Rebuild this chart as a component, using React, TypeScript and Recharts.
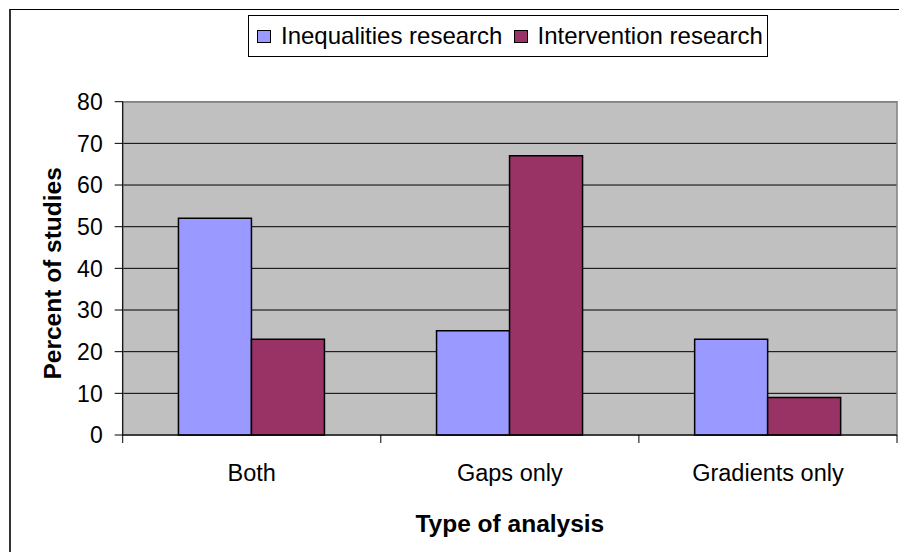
import React from "react";
import { BarChart, Bar, XAxis, YAxis, CartesianGrid, ReferenceArea, Label } from "recharts";

const categories = ["Both", "Gaps only", "Gradients only"];
const inequalities = [52, 25, 23];
const intervention = [23, 67, 9];
const yTicks = [0, 10, 20, 30, 40, 50, 60, 70, 80];
const seriesNames = ["Inequalities research", "Intervention research"];
const colors = ["#9999FF", "#993366"];

const data = categories.map((c, i) => ({ name: c, ineq: inequalities[i], interv: intervention[i] }));

const FONT = "'Liberation Sans', Arial, sans-serif";
const W = 899;
const H = 552;
const M = { top: 101.7, right: 2, left: 0, bottom: 0 };
const YW = 122.7;
const XH = 117;
const plotW = W - M.left - M.right - YW;
const band = plotW / categories.length;

const XTick = (props: any) => {
  const { x, y, payload, index } = props;
  return (
    <g>
      <line x1={x - band / 2} x2={x - band / 2} y1={y} y2={y + 8} stroke="#000" strokeWidth={1} />
      {index === categories.length - 1 && (
        <line x1={x + band / 2} x2={x + band / 2} y1={y} y2={y + 8} stroke="#000" strokeWidth={1} />
      )}
      <text x={x} y={y + 46} textAnchor="middle" fontSize={23.5} fontFamily={FONT} fill="#000">
        {payload.value}
      </text>
    </g>
  );
};

const Swatch = ({ color, ml, mr }: { color: string; ml: number; mr: number }) => (
  <span
    style={{
      display: "inline-block",
      width: 12,
      height: 11,
      background: color,
      border: "1px solid #000",
      marginLeft: ml,
      marginRight: mr,
      flex: "none",
    }}
  />
);

const LegendBox = () => (
  <div
    style={{
      position: "absolute",
      left: 248,
      top: 15,
      width: 520,
      height: 42,
      boxSizing: "border-box",
      border: "1px solid #000",
      background: "#fff",
      display: "flex",
      alignItems: "center",
      fontFamily: FONT,
      fontSize: 24,
      color: "#000",
      whiteSpace: "nowrap",
    }}
  >
    <Swatch color={colors[0]} ml={8} mr={10} />
    <span>{seriesNames[0]}</span>
    <Swatch color={colors[1]} ml={12} mr={9} />
    <span>{seriesNames[1]}</span>
  </div>
);

export default function App() {
  return (
    <div style={{ position: "absolute", left: 0, top: 0, width: W, height: H, overflow: "hidden", background: "#fff" }}>
      <div style={{ position: "absolute", left: 9, top: 9, width: W, height: H, borderTop: "1px solid #000", borderLeft: "2px solid #333" }} />
      <div style={{ position: "absolute", left: 0, top: 0 }}>
        <BarChart width={W} height={H} data={data} margin={M} barCategoryGap="21.6%" barGap={0}>
          <CartesianGrid vertical={false} stroke="#000" fill="#C0C0C0" horizontalValues={yTicks} />
          <ReferenceArea y1={0} y2={80} fill="none" stroke="#808080" strokeWidth={1.5} ifOverflow="visible" />
          <XAxis
            dataKey="name"
            height={XH}
            axisLine={{ stroke: "#000" }}
            tickLine={false}
            tickSize={0}
            tickMargin={0}
            tick={<XTick />}
            interval={0}
          >
            <Label
              content={(p: any) => {
                const vb = p.viewBox;
                return (
                  <text x={vb.x + vb.width / 2} y={vb.y + 97} textAnchor="middle" fontSize={24.5} fontWeight="bold" fontFamily={FONT} fill="#000">
                    Type of analysis
                  </text>
                );
              }}
            />
          </XAxis>
          <YAxis
            width={YW}
            domain={[0, 80]}
            ticks={yTicks}
            interval={0}
            axisLine={{ stroke: "#000" }}
            tickLine={{ stroke: "#000" }}
            tickSize={8}
            tickMargin={12}
            tick={{ fontSize: 23, fontFamily: FONT, fill: "#000" }}
          >
            <Label
              content={(p: any) => {
                const vb = p.viewBox;
                const cx = 61;
                const cy = vb.y + vb.height / 2 + 5;
                return (
                  <text x={cx} y={cy} transform={`rotate(-90 ${cx} ${cy})`} textAnchor="middle" fontSize={24.5} fontWeight="bold" fontFamily={FONT} fill="#000">
                    Percent of studies
                  </text>
                );
              }}
            />
          </YAxis>
          <Bar dataKey="ineq" name={seriesNames[0]} fill={colors[0]} stroke="#000" strokeWidth={1.5} isAnimationActive={false} />
          <Bar dataKey="interv" name={seriesNames[1]} fill={colors[1]} stroke="#000" strokeWidth={1.5} isAnimationActive={false} />
        </BarChart>
      </div>
      <LegendBox />
    </div>
  );
}
